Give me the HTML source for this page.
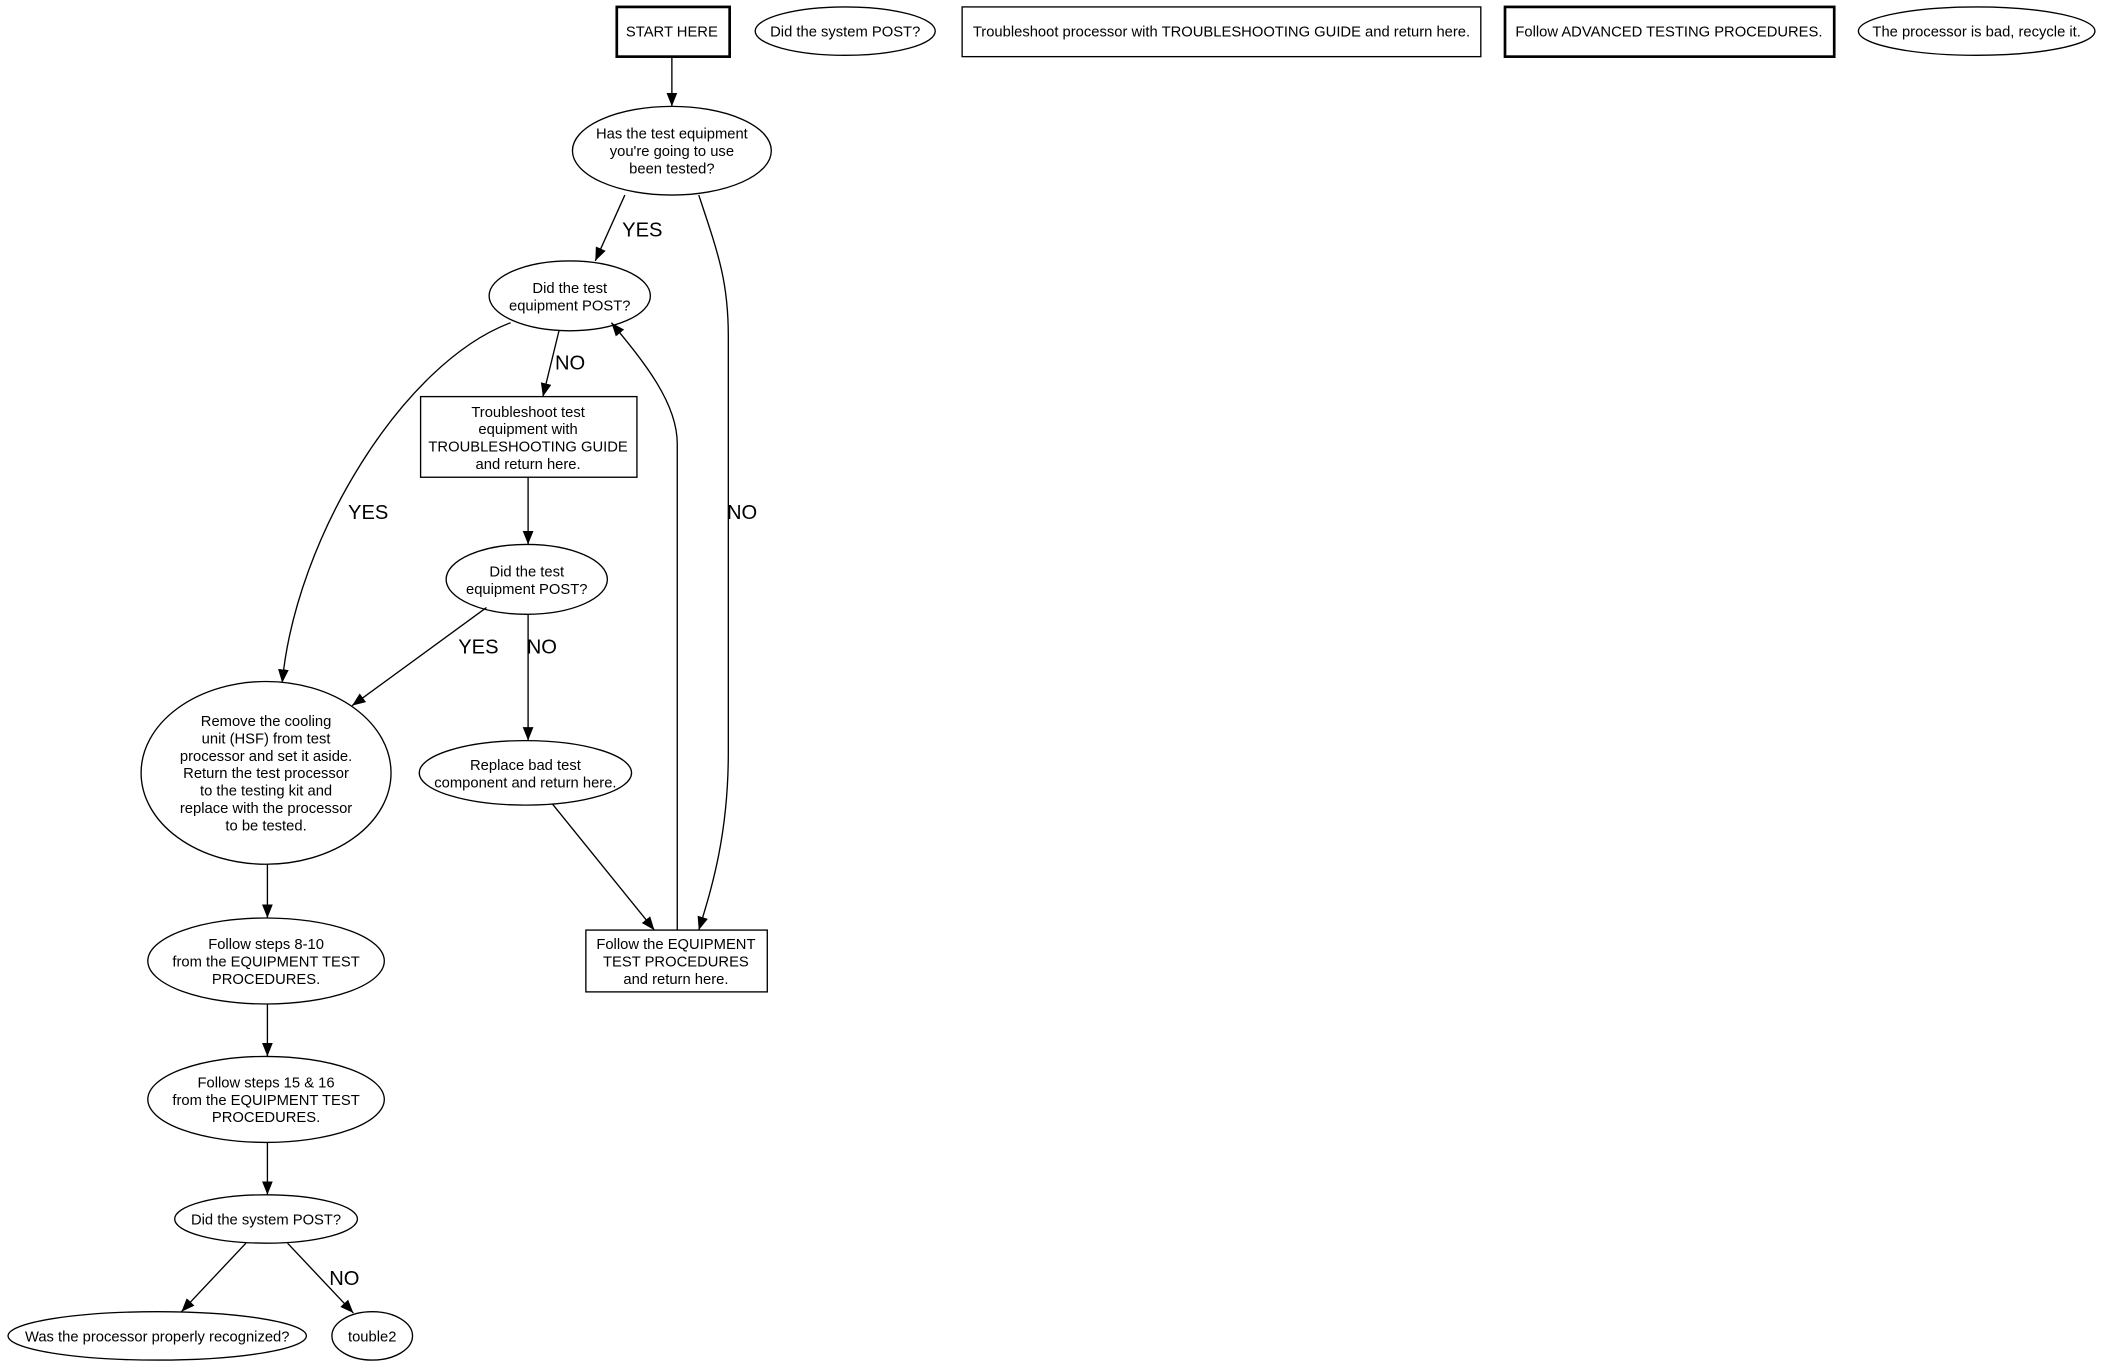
<!DOCTYPE html>
<html><head><meta charset="utf-8"><style>
html,body{margin:0;padding:0;background:#fff;}
svg{display:block;}
text{font-family:"Liberation Sans",sans-serif;font-size:11px;fill:#000;text-anchor:middle;}
.l{font-size:15px;text-anchor:start;}
.s{fill:none;stroke:#000;stroke-width:1;}
</style></head><body>
<svg width="2107" height="1367" viewBox="0 0 1568 1017" xmlns="http://www.w3.org/2000/svg">
<defs><marker id="a" markerWidth="10" markerHeight="8" refX="10" refY="4" orient="auto" markerUnits="userSpaceOnUse"><path d="M0,0 L10,4 L0,8 z" fill="#000"/></marker></defs>
<rect x="0" y="0" width="1568" height="1017" fill="#fff"/>
<rect x="459" y="5" width="84" height="37" class="s" stroke-width="2" style="stroke-width:2"/>
<text x="500" y="27">START HERE</text>
<ellipse cx="629" cy="23" rx="67" ry="18" class="s"/><text x="629" y="27">Did the system POST?</text>
<rect x="716" y="5" width="386" height="37" class="s"/><text x="909" y="27">Troubleshoot processor with TROUBLESHOOTING GUIDE and return here.</text>
<rect x="1120" y="5" width="245" height="37" class="s" style="stroke-width:2"/><text x="1242" y="27">Follow ADVANCED TESTING PROCEDURES.</text>
<ellipse cx="1471" cy="23" rx="88" ry="18" class="s"/><text x="1471" y="27">The processor is bad, recycle it.</text>

<ellipse cx="500" cy="112" rx="74" ry="33" class="s"/>
<text x="500" y="103">Has the test equipment</text><text x="500" y="116">you're going to use</text><text x="500" y="129">been tested?</text>
<ellipse cx="424" cy="220" rx="60" ry="26" class="s"/>
<text x="424" y="218">Did the test</text><text x="424" y="231">equipment POST?</text>
<rect x="313" y="295" width="161" height="60" class="s"/>
<text x="393" y="310">Troubleshoot test</text><text x="393" y="323">equipment with</text><text x="393" y="336">TROUBLESHOOTING GUIDE</text><text x="393" y="349">and return here.</text>
<ellipse cx="392" cy="431" rx="60" ry="26" class="s"/>
<text x="392" y="429">Did the test</text><text x="392" y="442">equipment POST?</text>
<ellipse cx="198" cy="575" rx="93" ry="68" class="s"/>
<text x="198" y="540">Remove the cooling</text><text x="198" y="553">unit (HSF) from test</text><text x="198" y="566">processor and set it aside.</text><text x="198" y="579">Return the test processor</text><text x="198" y="592">to the testing kit and</text><text x="198" y="605">replace with the processor</text><text x="198" y="618">to be tested.</text>
<ellipse cx="391" cy="575" rx="79" ry="24" class="s"/>
<text x="391" y="573">Replace bad test</text><text x="391" y="586">component and return here.</text>
<rect x="436" y="692" width="135" height="46" class="s"/>
<text x="503" y="706">Follow the EQUIPMENT</text><text x="503" y="719">TEST PROCEDURES</text><text x="503" y="732">and return here.</text>
<ellipse cx="198" cy="715" rx="88" ry="32" class="s"/>
<text x="198" y="706">Follow steps 8-10</text><text x="198" y="719">from the EQUIPMENT TEST</text><text x="198" y="732">PROCEDURES.</text>
<ellipse cx="198" cy="818" rx="88" ry="32" class="s"/>
<text x="198" y="809">Follow steps 15 &amp; 16</text><text x="198" y="822">from the EQUIPMENT TEST</text><text x="198" y="835">PROCEDURES.</text>
<ellipse cx="198" cy="907" rx="68" ry="18" class="s"/><text x="198" y="911">Did the system POST?</text>
<ellipse cx="117" cy="994" rx="111" ry="18" class="s"/><text x="117" y="998">Was the processor properly recognized?</text>
<ellipse cx="277" cy="994" rx="30" ry="18" class="s"/><text x="277" y="998">touble2</text>

<g class="s" marker-end="url(#a)">
<path d="M500,42 L500,79"/>
<path d="M465,145 L443,194"/>
<path d="M520,145 C535,190 542,210 542,250 L542,560 C542,620 530,660 520,692"/>
<path d="M416,246 L404,295"/>
<path d="M504,692 L504,330 C504,300 480,270 455,240"/>
<path d="M380,240 C300,270 220,400 210,508"/>
<path d="M393,355 L393,405"/>
<path d="M362,452 L262,525"/>
<path d="M393,457 L393,551"/>
<path d="M411,598 L487,692"/>
<path d="M199,643 L199,683"/>
<path d="M199,747 L199,786"/>
<path d="M199,850 L199,889"/>
<path d="M183,925 L135,976"/>
<path d="M214,925 L263,977"/>
</g>
<text class="l" x="463" y="176">YES</text>
<text class="l" x="541" y="386">NO</text>
<text class="l" x="413" y="275">NO</text>
<text class="l" x="259" y="386">YES</text>
<text class="l" x="341" y="486">YES</text>
<text class="l" x="392" y="486">NO</text>
<text class="l" x="245" y="956">NO</text>
</svg>
</body></html>
